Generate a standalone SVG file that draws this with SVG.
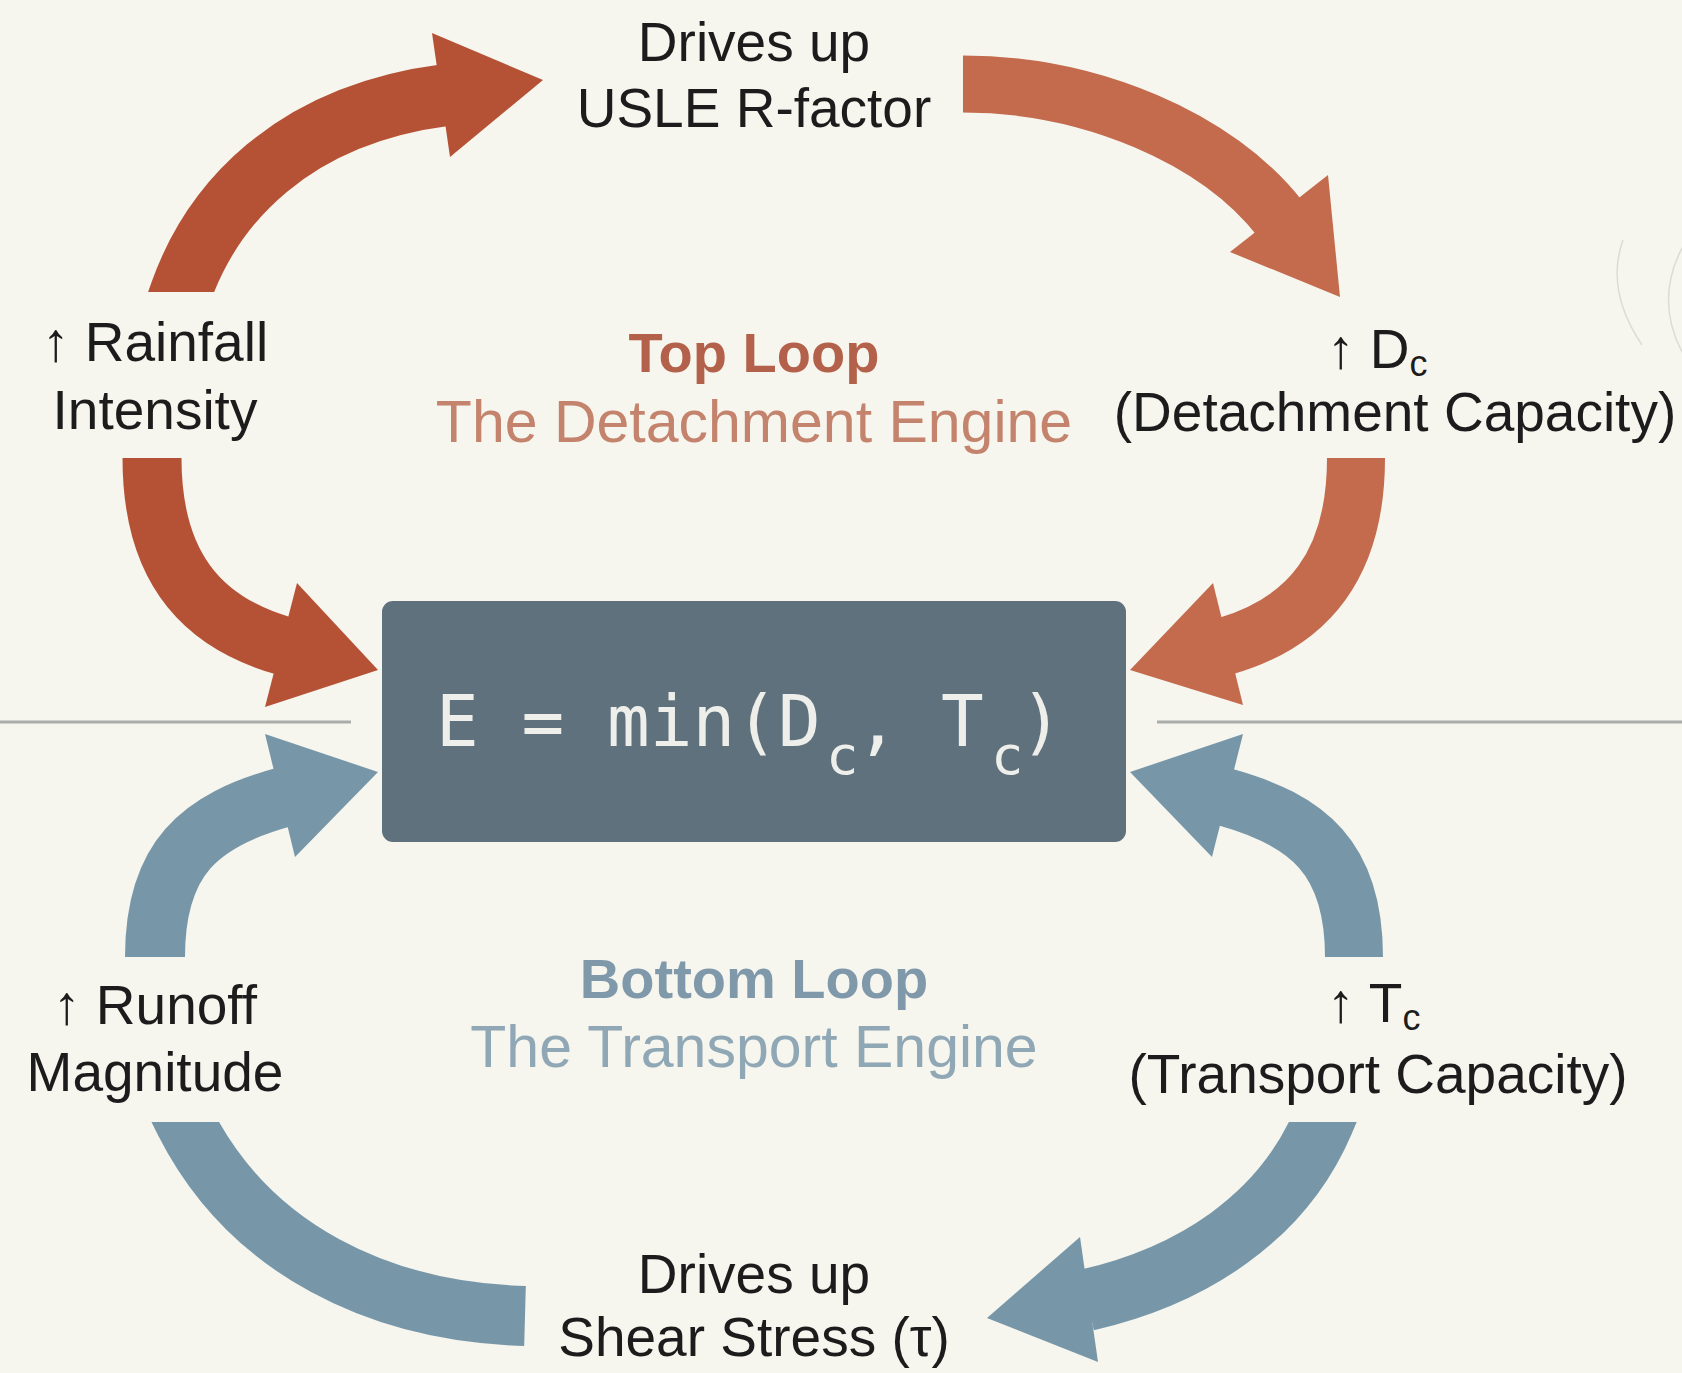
<svg xmlns="http://www.w3.org/2000/svg" width="1682" height="1373" viewBox="0 0 1682 1373">
  <defs>
    <style>
      .lbl { font-family: "Liberation Sans", Arial, sans-serif; font-size: 55px; fill: #1c1c1c; text-anchor: middle; }
      .lbl-start { font-family: "Liberation Sans", Arial, sans-serif; font-size: 55px; fill: #1c1c1c; }
      .sub { font-size: 36px; }
      .title { font-family: "Liberation Sans", Arial, sans-serif; text-anchor: middle; }
      .top-h { font-weight: bold; font-size: 56px; fill: #b3614a; }
      .top-s { font-size: 59px; fill: #c4836c; }
      .bot-h { font-weight: bold; font-size: 56px; fill: #7f99aa; }
      .bot-s { font-size: 59px; fill: #90a8b6; }
      .shaft { fill: none; stroke-linecap: butt; stroke-linejoin: round; }
      .rust-a { stroke: #b55236; }
      .rust-b { stroke: #c46b4d; }
      .rust-a-h { fill: #b55236; }
      .rust-b-h { fill: #c46b4d; }
      .blue { stroke: #7797a9; }
      .blue-h { fill: #7797a9; }
      .formula { font-family: "DejaVu Sans Mono", "Liberation Mono", monospace; font-size: 71px; fill: #eeeeea; }
      .formula .s { font-size: 54px; }
      .divider { stroke: #a9aeab; stroke-width: 3; }
      .ghost { fill: none; stroke: #dcdcd5; stroke-width: 1.5; }
    </style>
    <!-- flat horizontal cuts at the tails of the slanted shafts -->
    <clipPath id="cut-above-292"><rect x="0" y="0" width="1682" height="292"/></clipPath>
    <clipPath id="cut-below-1122"><rect x="0" y="1122" width="1682" height="251"/></clipPath>
  </defs>

  <rect width="1682" height="1373" fill="#f6f5ee"/>

  <!-- faint background arcs at the right edge -->
  <path class="ghost" d="M1623,240 Q1605,290 1642,345"/>
  <path class="ghost" d="M1682,248 Q1655,300 1682,352"/>

  <!-- divider between the two loops -->
  <line class="divider" x1="0" y1="722" x2="351" y2="722"/>
  <line class="divider" x1="1157" y1="722" x2="1682" y2="722"/>

  <!-- connectors -->
  <g id="connectors">
    <!-- top loop -->
    <path class="shaft rust-a" stroke-width="62" clip-path="url(#cut-above-292)" d="M165,337 L181,292 C212,205 290,115 446,95"/>
    <polygon class="rust-a-h" points="432,33 543,80 450,157"/>

    <path class="shaft rust-b" stroke-width="57" d="M963,84 C1090,84 1218,138 1281,220"/>
    <polygon class="rust-b-h" points="1328,175 1340,297 1230,252"/>

    <path class="shaft rust-a" stroke-width="59" d="M152,458 C152,565 200,622 284,646"/>
    <polygon class="rust-a-h" points="297,583 378,670 265,707"/>

    <path class="shaft rust-b" stroke-width="58" d="M1356,458 C1356,565 1308,622 1226,646"/>
    <polygon class="rust-b-h" points="1213,583 1130,670 1243,705"/>

    <!-- bottom loop -->
    <path class="shaft blue" stroke-width="60" d="M155,957 C155,858 200,820 284,797"/>
    <polygon class="blue-h" points="265,734 378,772 295,857"/>

    <path class="shaft blue" stroke-width="58" d="M1354,957 C1354,858 1308,820 1225,797"/>
    <polygon class="blue-h" points="1243,734 1130,772 1212,857"/>

    <path class="shaft blue" stroke-width="60" clip-path="url(#cut-below-1122)" d="M168,1088 L185,1122 C250,1250 380,1312 525,1316"/>

    <path class="shaft blue" stroke-width="62" clip-path="url(#cut-below-1122)" d="M1340,1082 L1323,1122 C1282,1218 1192,1276 1087,1300"/>
    <polygon class="blue-h" points="1080,1237 987,1318 1098,1362"/>
  </g>

  <!-- central equation -->
  <g id="node-erosion">
    <rect x="382" y="601" width="744" height="241" rx="11" fill="#5f717c"/>
    <text class="formula" y="746"><tspan x="436">E = min(D</tspan><tspan class="s" x="826" y="774">c</tspan><tspan x="856" y="746">,</tspan><tspan x="941">T</tspan><tspan class="s" x="991" y="774">c</tspan><tspan x="1020" y="746">)</tspan></text>
  </g>

  <g id="node-rfactor">
    <text class="lbl" x="754" y="61">Drives up</text>
    <text class="lbl" x="754" y="127">USLE R-factor</text>
  </g>

  <g id="node-rainfall">
    <text class="lbl" x="155" y="361">↑ Rainfall</text>
    <text class="lbl" x="155" y="429">Intensity</text>
  </g>

  <g id="node-detachment">
    <text class="lbl-start" x="1327" y="368">↑ D<tspan class="sub" dy="8">c</tspan></text>
    <text class="lbl" x="1395" y="431">(Detachment Capacity)</text>
  </g>

  <g id="label-top-loop">
    <text class="title top-h" x="754" y="372">Top Loop</text>
    <text class="title top-s" x="754" y="442">The Detachment Engine</text>
  </g>

  <g id="node-runoff">
    <text class="lbl" x="155" y="1024">↑ Runoff</text>
    <text class="lbl" x="155" y="1091">Magnitude</text>
  </g>

  <g id="node-transport">
    <text class="lbl-start" x="1327" y="1022">↑ T<tspan class="sub" dy="8">c</tspan></text>
    <text class="lbl" x="1378" y="1093">(Transport Capacity)</text>
  </g>

  <g id="label-bottom-loop">
    <text class="title bot-h" x="754" y="998">Bottom Loop</text>
    <text class="title bot-s" x="754" y="1067">The Transport Engine</text>
  </g>

  <g id="node-shear">
    <text class="lbl" x="754" y="1293">Drives up</text>
    <text class="lbl" x="754" y="1356">Shear Stress (τ)</text>
  </g>
</svg>
